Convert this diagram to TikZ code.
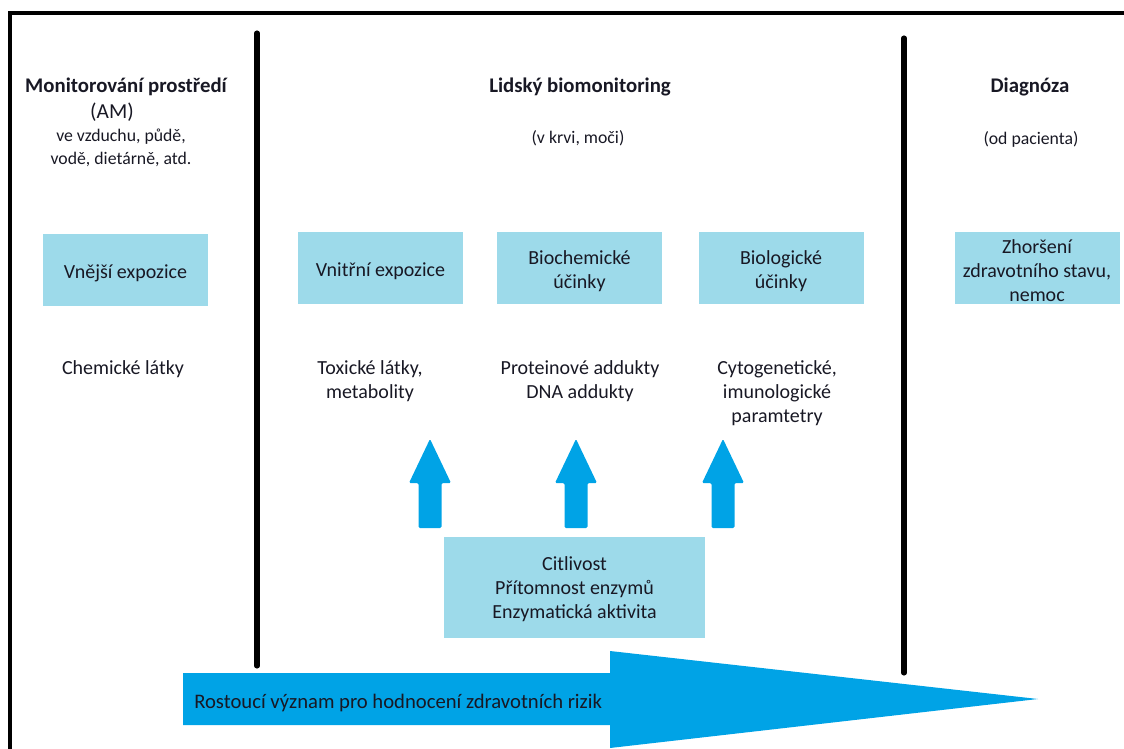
\documentclass[tikz,border=0pt]{standalone}
\usepackage{fontspec}
\setmainfont{Carlito}
\begin{document}
\begin{tikzpicture}[x=0.75pt,y=-0.75pt,
  every node/.style={text=inkc, font=\fontsize{15pt}{18pt}\selectfont, align=center, inner sep=0pt, yshift=-1.5pt},
  box/.style={fill=boxc, minimum width=123.75pt, minimum height=54pt, yshift=1.5pt},
  boxtext/.style={yshift=-1.2pt},
  head/.style={font=\fontsize{15.6pt}{18pt}\selectfont\bfseries},
  small/.style={font=\fontsize{13.3pt}{17.25pt}\selectfont},
  divider/.style={line width=3.8pt, line cap=round, black},
  uparrow/.style={fill=arrc, rounded corners=1pt}]
\definecolor{inkc}{RGB}{24,24,36}
\definecolor{boxc}{RGB}{157,218,234}
\definecolor{arrc}{RGB}{0,163,230}
\useasboundingbox (0,0) rectangle (1124,749);

% outer frame (only top and left edges are visible)
\draw[line width=3pt] (10,760) -- (10,13) -- (1130,13);

% column dividers
\coordinate (d1t) at (257,31);
\coordinate (d1b) at (257,664);
\coordinate (d2t) at (904,36);
\coordinate (d2b) at (904,671);
\draw[divider] (d1t) -- (d1b);
\draw[divider] (d2t) -- (d2b);

% column headings
\node[head] (h1) at (126,85) {Monitorování prostředí};
\node[font=\fontsize{16pt}{18pt}\selectfont] (h1a) at (112,110) {(AM)};
\node[small] (h1b) at (121,146) {ve vzduchu, půdě,\\vodě, dietárně, atd.};
\node[head] (h2) at (580,85) {Lidský biomonitoring};
\node[small] (h2a) at (578,136) {(v krvi, moči)};
\node[head] (h3) at (1030,85) {Diagnóza};
\node[small] (h3a) at (1031,137) {(od pacienta)};

% stage boxes and their captions
\node[box] (b1) at (125.5,269.5) {};
\node[box] (b2) at (380.5,268) {};
\node[box] (b3) at (579.5,268) {};
\node[box] (b4) at (781,268) {};
\node[box] (b5) at (1037,267.5) {};
\node[boxtext] (b1t) at (b1) {Vnější expozice};
\node[boxtext] (b2t) at (b2) {Vnitřní expozice};
\node[boxtext] (b3t) at (b3) {Biochemické\\účinky};
\node[boxtext] (b4t) at (b4) {Biologické\\účinky};
\node[boxtext] (b5t) at (b5) {Zhoršení\\zdravotního stavu,\\nemoc};

% markers under the boxes
\node (m1) at (123,367) {Chemické látky};
\node (m2) at (370,379) {Toxické látky,\\metabolity};
\node (m3) at (580,379) {Proteinové addukty\\DNA addukty};
\node (m4) at (777,391) {Cytogenetické,\\imunologické\\paramtetry};

% susceptibility box
\node[fill=boxc, minimum width=195.75pt, minimum height=75.75pt, yshift=1.5pt] (s) at (574.5,587.5) {};
\node (st) at (574.5,587.5) {Citlivost\\Přítomnost enzymů\\Enzymatická aktivita};

% upward arrows
\foreach \cx/\nm in {430/u1, 576/u2, 723/u3}{
  \fill[uparrow] (\cx-11.5,528) -- (\cx-11.5,483) -- (\cx-21,483) -- (\cx,439)
     -- (\cx+21,483) -- (\cx+11.5,483) -- (\cx+11.5,528) -- cycle;
}

% broad arrow along the bottom
\fill[arrc] (183,673) -- (610,673) -- (610,651) -- (1038,699) -- (610,748)
  -- (610,725) -- (183,725) -- cycle;
\node[anchor=west, font=\fontsize{15.5pt}{18pt}\selectfont] (r) at (194,701) {Rostoucí význam pro hodnocení zdravotních rizik};
\end{tikzpicture}
\end{document}
